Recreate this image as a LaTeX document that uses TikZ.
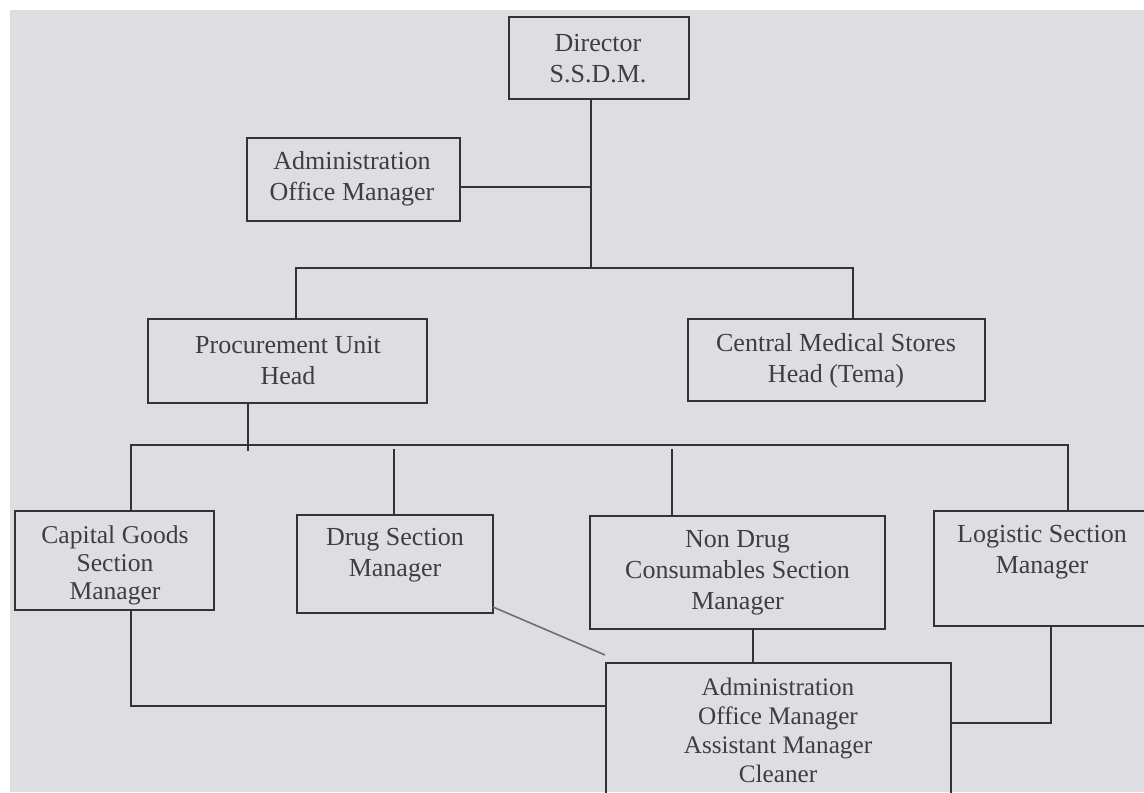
\documentclass[tikz,border=0pt]{standalone}
\usepackage{fontspec}
\setmainfont{Liberation Serif}
\usetikzlibrary{calc}
\definecolor{bg}{RGB}{221,221,226}
\definecolor{ln}{RGB}{50,50,55}
\definecolor{tx}{RGB}{62,62,66}
\definecolor{dg}{RGB}{110,110,115}
\begin{document}
\begin{tikzpicture}[x=0.5pt,y=-0.5pt,
  box/.style={draw=ln,line width=0.9pt,inner sep=0pt,outer sep=0pt},
  lbl/.style={text=tx,align=center,inner sep=0pt},
  f155/.style={font=\fontsize{13}{15.5}\selectfont},
  f145/.style={font=\fontsize{12.6}{14.5}\selectfont},
  f14/.style={font=\fontsize{12.8}{14}\selectfont},
  conn/.style={draw=ln,line width=0.9pt},
  dconn/.style={draw=dg,line width=0.8pt}]
\useasboundingbox (0,0) rectangle (1144,792);
\clip (0,0) rectangle (1144,792);
\fill[white] (0,0) rectangle (1144,792);
\fill[bg] (10,10) rectangle (1144,792);

% boxes
\node[box,minimum width=90pt,minimum height=41pt] (dir) at (599,58) {};
\node[box,minimum width=106.5pt,minimum height=41.5pt] (adm1) at (353.5,179.5) {};
\node[box,minimum width=139.5pt,minimum height=42pt] (proc) at (287.5,361) {};
\node[box,minimum width=148.5pt,minimum height=41pt] (cms) at (836.5,360) {};
\node[box,minimum width=99.5pt,minimum height=49.5pt] (cap) at (114.5,560.5) {};
\node[box,minimum width=98pt,minimum height=49pt] (drug) at (395,564) {};
\node[box,minimum width=147.5pt,minimum height=56.5pt] (nond) at (737.5,572.5) {};
\node[box,minimum width=113pt,minimum height=57.5pt] (logi) at (1047,568.5) {};
\node[box,minimum width=172.5pt,minimum height=88.5pt] (adm2) at (778.5,751.5) {};

% labels
\node[lbl,f155] (dirT) at (598,59) {Director\\S.S.D.M.};
\node[lbl,f155] (adm1T) at (352,179) {Administration\\Office Manager};
\node[lbl,f155] (procT) at (288,361) {Procurement Unit\\Head};
\node[lbl,f155] (cmsT) at (836,361) {Central Medical Stores\\Head (Tema)};
\node[lbl,f14] (capT) at (115,565) {Capital Goods\\Section\\Manager};
\node[lbl,f155] (drugT) at (395,555) {Drug Section\\Manager};
\node[lbl,f155] (nondT) at (737.5,573) {Non Drug\\Consumables Section\\Manager};
\node[lbl,f155] (logiT) at (1042,552) {Logistic Section\\Manager};
\node[lbl,f145] (adm2T) at (778,730) {Administration\\Office Manager\\Assistant Manager\\Cleaner};

% junction points
\coordinate (j1) at (591,187);
\coordinate (b1c) at (591,268);
\coordinate (b1l) at (296,268);
\coordinate (b1r) at (853,268);
\coordinate (pd) at (248,451);
\coordinate (b2l) at (131,445);
\coordinate (b2r) at (1068,445);
\coordinate (b2d) at (394,449);
\coordinate (b2n) at (672,449);
\coordinate (cb) at (131,706);
\coordinate (lb) at (1051,723);
\coordinate (nb) at (753,640);

% connectors top
\draw[conn] (dir.south -| j1) -- (b1c);
\draw[conn] (j1 -| adm1.east) -- (j1);
\draw[conn] (proc.north -| b1l) -- (b1l) -- (b1r) -- (cms.north -| b1r);
\draw[conn] (proc.south -| pd) -- (pd);
\draw[conn] (cap.north -| b2l) -- (b2l) -- (b2r) -- (logi.north -| b2r);
\draw[conn] (b2d) -- (drug.north -| b2d);
\draw[conn] (b2n) -- (nond.north -| b2n);

% connectors bottom
\draw[conn] (cap.south -| cb) -- (cb) -- (cb -| adm2.west);
\draw[conn] (nond.south -| nb) -- (adm2.north -| nb);
\draw[conn] (logi.south -| lb) -- (lb) -- (lb -| adm2.east);
\draw[dconn] ($(drug.south east)+(0,-6)$) -- ($(adm2.north west)+(-1,-8)$);
\end{tikzpicture}
\end{document}
